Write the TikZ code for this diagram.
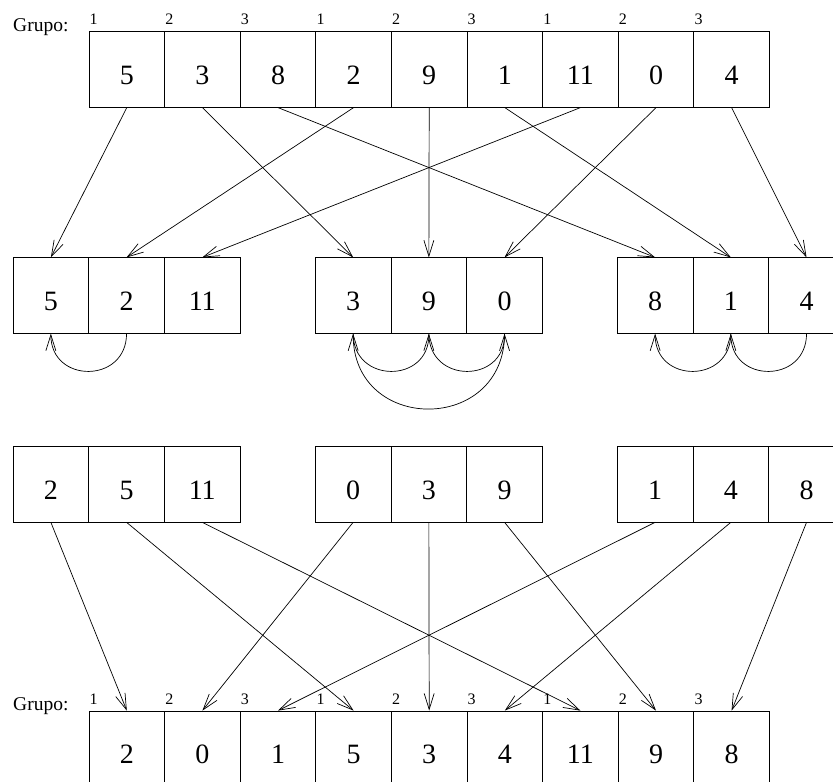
\documentclass[tikz,border=0pt]{standalone}
\usepackage{fontspec}
\setmainfont{Liberation Serif}
\usetikzlibrary{arrows.meta}
\begin{document}
\begin{tikzpicture}[x=1pt,y=-1pt,
  cell/.style={draw, line width=0.7pt, minimum width=75.6pt, minimum height=75.5pt, inner sep=0pt,
    text height=30pt, text depth=0pt, font=\fontsize{28}{28}\selectfont},
  gnum/.style={inner sep=0pt, anchor=base west, font=\fontsize{16}{16}\selectfont},
  glabel/.style={inner sep=0pt, anchor=base west, font=\fontsize{19.5}{19.5}\selectfont},
  conn/.style={line width=0.7pt, -{Straight Barb[length=16pt,width=10pt]}},
  swap/.style={line width=0.7pt, -{Straight Barb[length=16pt,width=10pt]}, out=-90, in=-90, looseness=1.7}]
\useasboundingbox (0,0) rectangle (833,782);
\clip (0,0) rectangle (833,782);
% top row
\foreach \v [count=\i] in {5,3,8,2,9,1,11,0,4}
  \node[cell] (t\i) at ({89+75.6*(\i-0.5)},69.5) {\v};
\node[glabel] (gl1) at (13,31) {Grupo:};
\foreach \g [count=\i] in {1,2,3,1,2,3,1,2,3}
  \node[gnum] (gt\i) at ({89.5+75.6*(\i-1)},24.5) {\g};
% second row (groups)
\foreach \v/\x [count=\i] in {5/50.85,2/126.55,11/202.25,3/353.15,9/428.85,0/504.55,8/655.15,1/730.85,4/806.55}
  \node[cell] (m\i) at (\x,295.5) {\v};
% third row (sorted groups)
\foreach \v/\x [count=\i] in {2/50.85,5/126.55,11/202.25,0/353.15,3/428.85,9/504.55,1/655.15,4/730.85,8/806.55}
  \node[cell] (n\i) at (\x,484.2) {\v};
% bottom row
\foreach \v [count=\i] in {2,0,1,5,3,4,11,9,8}
  \node[cell] (b\i) at ({89+75.6*(\i-0.5)},748.7) {\v};
\node[glabel] (gl2) at (13,710) {Grupo:};
\foreach \g [count=\i] in {1,2,3,1,2,3,1,2,3}
  \node[gnum] (gb\i) at ({89.5+75.6*(\i-1)},704.5) {\g};
% distribution arrows
\foreach \a/\b in {1/1,2/4,3/7,4/2,5/5,6/8,7/3,8/6,9/9}
  \draw[conn] (t\a.south) -- (m\b.north);
% gathering arrows
\foreach \a/\b in {1/1,2/4,3/7,4/2,5/5,6/8,7/3,8/6,9/9}
  \draw[conn] (n\a.south) -- (b\b.north);
% swaps inside groups
\draw[swap] (m2.south) to (m1.south);
\draw[swap] (m4.south) to (m5.south);
\draw[swap] (m5.south) to (m6.south);
\draw[swap] (m6.south) to (m4.south);
\draw[swap] (m8.south) to (m7.south);
\draw[swap] (m9.south) to (m8.south);
\end{tikzpicture}
\end{document}
